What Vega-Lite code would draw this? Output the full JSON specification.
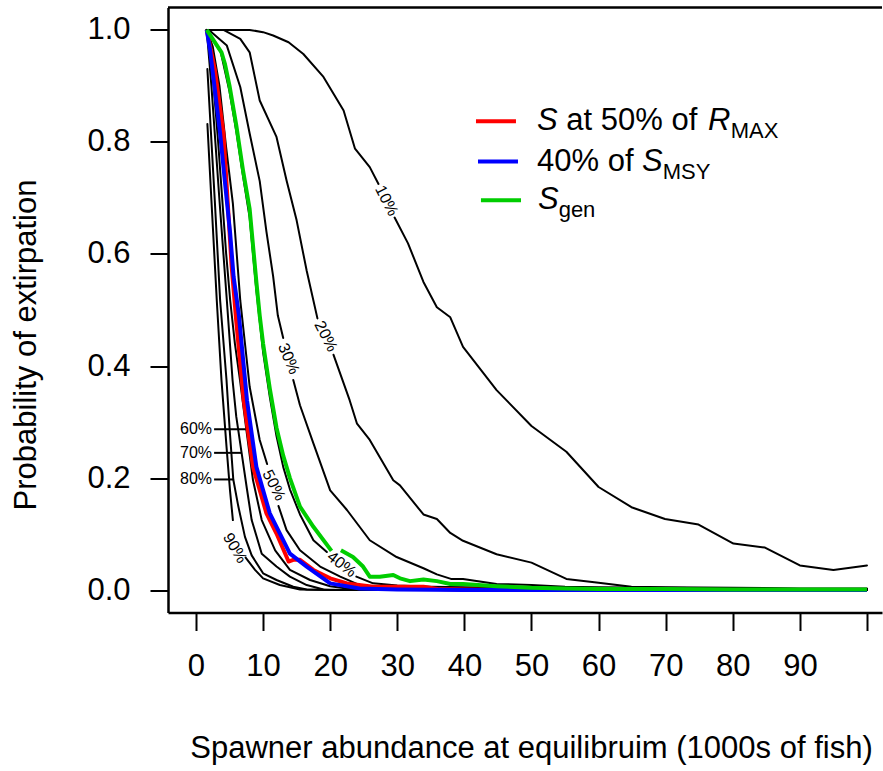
{
"$schema":"https://vega.github.io/schema/vega-lite/v6.json",
"width":714,"height":605,
"autosize":{"type":"none"},
"padding":{"left":168,"top":7.5,"right":1,"bottom":158.5},
"background":"white",
"config":{"view":{"stroke":null},"font":"Liberation Sans",
"axis":{"labelFont":"Liberation Sans","titleFont":"Liberation Sans","labelFontSize":31,"titleFontSize":31,"titleFontWeight":"normal","labelColor":"black","titleColor":"black","tickColor":"black","domainColor":"black","tickSize":18,"tickWidth":2,"domainWidth":2.5,"grid":false,"labelFlush":false,"labelOverlap":false}},
"encoding":{
  "x":{"field":"x","type":"quantitative","scale":{"domain":[-4.17,102.24],"nice":false,"zero":false},
       "axis":{"title":"Spawner abundance at equilibruim (1000s of fish)","values":[0,10,20,30,40,50,60,70,80,90,100],"labelExpr":"datum.value == 100 ? '' : datum.label","labelPadding":21,"titlePadding":52,"titleX":363}},
  "y":{"field":"y","type":"quantitative","scale":{"domain":[-0.04,1.04],"nice":false,"zero":false},
       "axis":{"title":"Probability of extirpation","values":[0,0.2,0.4,0.6,0.8,1],"format":".1f","labelPadding":20,"titlePadding":44,"titleY":337}}
},
"datasets":{
"contours":[
{"id":"10%","seg":1,"x":1.6,"y":1.0},{"id":"10%","seg":1,"x":4,"y":1.0},{"id":"10%","seg":1,"x":6,"y":1.0},{"id":"10%","seg":1,"x":8,"y":1.0},{"id":"10%","seg":1,"x":10,"y":0.996},{"id":"10%","seg":1,"x":11.5,"y":0.99},{"id":"10%","seg":1,"x":13.8,"y":0.978},{"id":"10%","seg":1,"x":16,"y":0.957},{"id":"10%","seg":1,"x":19,"y":0.916},{"id":"10%","seg":1,"x":22,"y":0.856},{"id":"10%","seg":1,"x":23.7,"y":0.788},{"id":"10%","seg":1,"x":25.9,"y":0.755},{"id":"10%","seg":1,"x":27.2,"y":0.725},
{"id":"10%","seg":2,"x":29.6,"y":0.665},{"id":"10%","seg":2,"x":31.6,"y":0.619},{"id":"10%","seg":2,"x":33.9,"y":0.55},{"id":"10%","seg":2,"x":35.9,"y":0.505},{"id":"10%","seg":2,"x":37.9,"y":0.487},{"id":"10%","seg":2,"x":39.8,"y":0.434},{"id":"10%","seg":2,"x":44.8,"y":0.357},{"id":"10%","seg":2,"x":50,"y":0.293},{"id":"10%","seg":2,"x":55.2,"y":0.247},{"id":"10%","seg":2,"x":60,"y":0.184},{"id":"10%","seg":2,"x":64.9,"y":0.148},{"id":"10%","seg":2,"x":69.9,"y":0.127},{"id":"10%","seg":2,"x":74.9,"y":0.117},{"id":"10%","seg":2,"x":80.1,"y":0.083},{"id":"10%","seg":2,"x":84.8,"y":0.076},{"id":"10%","seg":2,"x":90,"y":0.044},{"id":"10%","seg":2,"x":95,"y":0.036},{"id":"10%","seg":2,"x":100,"y":0.044},
{"id":"20%","seg":1,"x":1.6,"y":1.0},{"id":"20%","seg":1,"x":4.1,"y":1.0},{"id":"20%","seg":1,"x":6.6,"y":0.984},{"id":"20%","seg":1,"x":8,"y":0.96},{"id":"20%","seg":1,"x":9.5,"y":0.874},{"id":"20%","seg":1,"x":12,"y":0.809},{"id":"20%","seg":1,"x":13.5,"y":0.731},{"id":"20%","seg":1,"x":15,"y":0.66},{"id":"20%","seg":1,"x":16.5,"y":0.57},{"id":"20%","seg":1,"x":18.1,"y":0.485},
{"id":"20%","seg":2,"x":20.5,"y":0.42},{"id":"20%","seg":2,"x":22.9,"y":0.339},{"id":"20%","seg":2,"x":24,"y":0.297},{"id":"20%","seg":2,"x":25.9,"y":0.268},{"id":"20%","seg":2,"x":29.4,"y":0.196},{"id":"20%","seg":2,"x":30.4,"y":0.187},{"id":"20%","seg":2,"x":33.9,"y":0.135},{"id":"20%","seg":2,"x":35.9,"y":0.127},{"id":"20%","seg":2,"x":37.9,"y":0.102},{"id":"20%","seg":2,"x":39.8,"y":0.088},{"id":"20%","seg":2,"x":44.8,"y":0.064},{"id":"20%","seg":2,"x":50,"y":0.049},{"id":"20%","seg":2,"x":55.2,"y":0.02},{"id":"20%","seg":2,"x":60,"y":0.013},{"id":"20%","seg":2,"x":64.9,"y":0.006},{"id":"20%","seg":2,"x":70,"y":0.005},{"id":"20%","seg":2,"x":80,"y":0.004},{"id":"20%","seg":2,"x":90,"y":0.003},{"id":"20%","seg":2,"x":100,"y":0.003},
{"id":"30%","seg":1,"x":1.6,"y":1.0},{"id":"30%","seg":1,"x":2.1,"y":0.998},{"id":"30%","seg":1,"x":4.6,"y":0.972},{"id":"30%","seg":1,"x":6.6,"y":0.898},{"id":"30%","seg":1,"x":8,"y":0.815},{"id":"30%","seg":1,"x":9.5,"y":0.73},{"id":"30%","seg":1,"x":10.5,"y":0.64},{"id":"30%","seg":1,"x":11.5,"y":0.56},{"id":"30%","seg":1,"x":12.2,"y":0.49},{"id":"30%","seg":1,"x":13.0,"y":0.45},
{"id":"30%","seg":2,"x":14.5,"y":0.375},{"id":"30%","seg":2,"x":15.5,"y":0.33},{"id":"30%","seg":2,"x":17.5,"y":0.262},{"id":"30%","seg":2,"x":20,"y":0.178},{"id":"30%","seg":2,"x":22.5,"y":0.143},{"id":"30%","seg":2,"x":25.9,"y":0.089},{"id":"30%","seg":2,"x":29.9,"y":0.059},{"id":"30%","seg":2,"x":33.9,"y":0.039},{"id":"30%","seg":2,"x":35.9,"y":0.028},{"id":"30%","seg":2,"x":38,"y":0.02},{"id":"30%","seg":2,"x":39.8,"y":0.02},{"id":"30%","seg":2,"x":44.8,"y":0.011},{"id":"30%","seg":2,"x":50,"y":0.009},{"id":"30%","seg":2,"x":55,"y":0.006},{"id":"30%","seg":2,"x":60,"y":0.005},{"id":"30%","seg":2,"x":70,"y":0.004},{"id":"30%","seg":2,"x":80,"y":0.003},{"id":"30%","seg":2,"x":90,"y":0.002},{"id":"30%","seg":2,"x":100,"y":0.002},
{"id":"40%","seg":1,"x":1.6,"y":1.0},{"id":"40%","seg":1,"x":3.7,"y":0.96},{"id":"40%","seg":1,"x":5,"y":0.89},{"id":"40%","seg":1,"x":6,"y":0.82},{"id":"40%","seg":1,"x":7,"y":0.74},{"id":"40%","seg":1,"x":8,"y":0.665},{"id":"40%","seg":1,"x":9,"y":0.535},{"id":"40%","seg":1,"x":10,"y":0.425},{"id":"40%","seg":1,"x":11,"y":0.345},{"id":"40%","seg":1,"x":12,"y":0.275},{"id":"40%","seg":1,"x":13,"y":0.22},{"id":"40%","seg":1,"x":14,"y":0.18},{"id":"40%","seg":1,"x":15.5,"y":0.135},{"id":"40%","seg":1,"x":17.5,"y":0.089},{"id":"40%","seg":1,"x":19.5,"y":0.068},
{"id":"40%","seg":2,"x":23.9,"y":0.024},{"id":"40%","seg":2,"x":26.4,"y":0.012},{"id":"40%","seg":2,"x":30,"y":0.008},{"id":"40%","seg":2,"x":35,"y":0.006},{"id":"40%","seg":2,"x":40,"y":0.005},{"id":"40%","seg":2,"x":50,"y":0.004},{"id":"40%","seg":2,"x":60,"y":0.003},{"id":"40%","seg":2,"x":70,"y":0.003},{"id":"40%","seg":2,"x":80,"y":0.002},{"id":"40%","seg":2,"x":100,"y":0.002},
{"id":"50%","seg":1,"x":1.6,"y":1.0},{"id":"50%","seg":1,"x":2.5,"y":0.97},{"id":"50%","seg":1,"x":3.5,"y":0.9},{"id":"50%","seg":1,"x":4.5,"y":0.79},{"id":"50%","seg":1,"x":5.5,"y":0.69},{"id":"50%","seg":1,"x":6.6,"y":0.517},{"id":"50%","seg":1,"x":8,"y":0.363},{"id":"50%","seg":1,"x":9.5,"y":0.268},{"id":"50%","seg":1,"x":10.6,"y":0.225},
{"id":"50%","seg":2,"x":12.3,"y":0.15},{"id":"50%","seg":2,"x":13.5,"y":0.107},{"id":"50%","seg":2,"x":15.5,"y":0.071},{"id":"50%","seg":2,"x":18.5,"y":0.042},{"id":"50%","seg":2,"x":21.5,"y":0.024},{"id":"50%","seg":2,"x":24.4,"y":0.009},{"id":"50%","seg":2,"x":28,"y":0.004},{"id":"50%","seg":2,"x":32,"y":0.002},{"id":"50%","seg":2,"x":36,"y":0.001},{"id":"50%","seg":2,"x":40,"y":0},{"id":"50%","seg":2,"x":100,"y":0},
{"id":"60%","seg":1,"x":1.6,"y":1.0},{"id":"60%","seg":1,"x":2.5,"y":0.92},{"id":"60%","seg":1,"x":3.3,"y":0.8},{"id":"60%","seg":1,"x":3.9,"y":0.7},{"id":"60%","seg":1,"x":4.5,"y":0.6},{"id":"60%","seg":1,"x":5.1,"y":0.517},{"id":"60%","seg":1,"x":5.8,"y":0.44},{"id":"60%","seg":1,"x":6.56,"y":0.375},{"id":"60%","seg":1,"x":7.5,"y":0.287},{"id":"60%","seg":1,"x":8.5,"y":0.196},{"id":"60%","seg":1,"x":9.8,"y":0.125},{"id":"60%","seg":1,"x":11.8,"y":0.071},{"id":"60%","seg":1,"x":14,"y":0.036},{"id":"60%","seg":1,"x":17,"y":0.018},{"id":"60%","seg":1,"x":20,"y":0.007},{"id":"60%","seg":1,"x":23,"y":0.002},{"id":"60%","seg":1,"x":26,"y":0},{"id":"60%","seg":1,"x":100,"y":0},
{"id":"70%","seg":1,"x":1.6,"y":1.0},{"id":"70%","seg":1,"x":2.3,"y":0.9},{"id":"70%","seg":1,"x":3.5,"y":0.696},{"id":"70%","seg":1,"x":4.6,"y":0.517},{"id":"70%","seg":1,"x":5.45,"y":0.375},{"id":"70%","seg":1,"x":6.0,"y":0.31},{"id":"70%","seg":1,"x":6.8,"y":0.245},{"id":"70%","seg":1,"x":7.6,"y":0.18},{"id":"70%","seg":1,"x":8.3,"y":0.125},{"id":"70%","seg":1,"x":9.8,"y":0.065},{"id":"70%","seg":1,"x":12,"y":0.042},{"id":"70%","seg":1,"x":14,"y":0.024},{"id":"70%","seg":1,"x":16.5,"y":0.009},{"id":"70%","seg":1,"x":19,"y":0.001},{"id":"70%","seg":1,"x":22,"y":0},{"id":"70%","seg":1,"x":100,"y":0},
{"id":"80%","seg":1,"x":1.7,"y":0.93},{"id":"80%","seg":1,"x":2.8,"y":0.696},{"id":"80%","seg":1,"x":3.6,"y":0.517},{"id":"80%","seg":1,"x":4.55,"y":0.375},{"id":"80%","seg":1,"x":5.0,"y":0.29},{"id":"80%","seg":1,"x":5.56,"y":0.1975},{"id":"80%","seg":1,"x":6.3,"y":0.15},{"id":"80%","seg":1,"x":7.3,"y":0.095},{"id":"80%","seg":1,"x":8.3,"y":0.062},{"id":"80%","seg":1,"x":10,"y":0.03},{"id":"80%","seg":1,"x":12,"y":0.018},{"id":"80%","seg":1,"x":14.5,"y":0.006},{"id":"80%","seg":1,"x":16.5,"y":0.001},{"id":"80%","seg":1,"x":20,"y":0},{"id":"80%","seg":1,"x":100,"y":0},
{"id":"90%","seg":1,"x":1.7,"y":0.832},{"id":"90%","seg":1,"x":2.3,"y":0.696},{"id":"90%","seg":1,"x":3.1,"y":0.517},{"id":"90%","seg":1,"x":3.8,"y":0.375},{"id":"90%","seg":1,"x":4.55,"y":0.256},{"id":"90%","seg":1,"x":5.07,"y":0.178},{"id":"90%","seg":1,"x":5.5,"y":0.125},
{"id":"90%","seg":2,"x":7.4,"y":0.058},{"id":"90%","seg":2,"x":8.8,"y":0.036},{"id":"90%","seg":2,"x":10,"y":0.021},{"id":"90%","seg":2,"x":12.5,"y":0.009},{"id":"90%","seg":2,"x":15.5,"y":0.001},{"id":"90%","seg":2,"x":20,"y":0},{"id":"90%","seg":2,"x":100,"y":0}
],
"refs":[
{"series":"rmax","seg":1,"x":1.6,"y":1.0},{"series":"rmax","seg":1,"x":2.8,"y":0.93},{"series":"rmax","seg":1,"x":4.1,"y":0.815},{"series":"rmax","seg":1,"x":5.3,"y":0.58},{"series":"rmax","seg":1,"x":6,"y":0.48},{"series":"rmax","seg":1,"x":7.1,"y":0.34},{"series":"rmax","seg":1,"x":8.5,"y":0.22},{"series":"rmax","seg":1,"x":10.5,"y":0.137},{"series":"rmax","seg":1,"x":12,"y":0.101},{"series":"rmax","seg":1,"x":13.8,"y":0.051},{"series":"rmax","seg":1,"x":14.5,"y":0.054},{"series":"rmax","seg":1,"x":15.5,"y":0.054},{"series":"rmax","seg":1,"x":17.5,"y":0.036},{"series":"rmax","seg":1,"x":20,"y":0.021},{"series":"rmax","seg":1,"x":22.5,"y":0.012},{"series":"rmax","seg":1,"x":26.4,"y":0.006},{"series":"rmax","seg":1,"x":30.9,"y":0.006},{"series":"rmax","seg":1,"x":33.9,"y":0.006},{"series":"rmax","seg":1,"x":36,"y":0.002},{"series":"rmax","seg":1,"x":40,"y":0.001},{"series":"rmax","seg":1,"x":50,"y":0},{"series":"rmax","seg":1,"x":100,"y":0},
{"series":"smsy","seg":1,"x":1.6,"y":1.0},{"series":"smsy","seg":1,"x":2.1,"y":0.964},{"series":"smsy","seg":1,"x":3.6,"y":0.815},{"series":"smsy","seg":1,"x":4.3,"y":0.73},{"series":"smsy","seg":1,"x":5.1,"y":0.636},{"series":"smsy","seg":1,"x":5.6,"y":0.56},{"series":"smsy","seg":1,"x":6.4,"y":0.49},{"series":"smsy","seg":1,"x":7.6,"y":0.339},{"series":"smsy","seg":1,"x":9,"y":0.22},{"series":"smsy","seg":1,"x":11,"y":0.137},{"series":"smsy","seg":1,"x":14,"y":0.065},{"series":"smsy","seg":1,"x":16.5,"y":0.042},{"series":"smsy","seg":1,"x":20,"y":0.012},{"series":"smsy","seg":1,"x":24.4,"y":0.003},{"series":"smsy","seg":1,"x":30,"y":0.001},{"series":"smsy","seg":1,"x":40,"y":0},{"series":"smsy","seg":1,"x":100,"y":0},
{"series":"sgen","seg":1,"x":1.6,"y":1.0},{"series":"sgen","seg":1,"x":3.8,"y":0.96},{"series":"sgen","seg":1,"x":4.3,"y":0.94},{"series":"sgen","seg":1,"x":5,"y":0.9},{"series":"sgen","seg":1,"x":6,"y":0.83},{"series":"sgen","seg":1,"x":7,"y":0.75},{"series":"sgen","seg":1,"x":8,"y":0.68},{"series":"sgen","seg":1,"x":9,"y":0.55},{"series":"sgen","seg":1,"x":9.5,"y":0.49},{"series":"sgen","seg":1,"x":10,"y":0.44},{"series":"sgen","seg":1,"x":11,"y":0.36},{"series":"sgen","seg":1,"x":12,"y":0.29},{"series":"sgen","seg":1,"x":13,"y":0.24},{"series":"sgen","seg":1,"x":14,"y":0.2},{"series":"sgen","seg":1,"x":15.5,"y":0.149},{"series":"sgen","seg":1,"x":17.5,"y":0.113},{"series":"sgen","seg":1,"x":20.2,"y":0.07},
{"series":"sgen","seg":2,"x":21.6,"y":0.071},{"series":"sgen","seg":2,"x":23.4,"y":0.059},{"series":"sgen","seg":2,"x":24.9,"y":0.042},{"series":"sgen","seg":2,"x":25.9,"y":0.024},{"series":"sgen","seg":2,"x":27.4,"y":0.024},{"series":"sgen","seg":2,"x":29.4,"y":0.027},{"series":"sgen","seg":2,"x":30.4,"y":0.021},{"series":"sgen","seg":2,"x":31.9,"y":0.016},{"series":"sgen","seg":2,"x":33.9,"y":0.019},{"series":"sgen","seg":2,"x":35.9,"y":0.016},{"series":"sgen","seg":2,"x":37.9,"y":0.011},{"series":"sgen","seg":2,"x":39.8,"y":0.011},{"series":"sgen","seg":2,"x":44.8,"y":0.007},{"series":"sgen","seg":2,"x":50,"y":0.004},{"series":"sgen","seg":2,"x":55,"y":0.003},{"series":"sgen","seg":2,"x":60,"y":0.002},{"series":"sgen","seg":2,"x":70,"y":0.002},{"series":"sgen","seg":2,"x":80,"y":0.001},{"series":"sgen","seg":2,"x":90,"y":0.001},{"series":"sgen","seg":2,"x":100,"y":0.001}
],
"clabels":[
{"text":"10%","group":"a","x":28.4,"y":0.695},{"text":"20%","group":"a","x":19.35,"y":0.453},{"text":"50%","group":"a","x":11.6,"y":0.187},{"text":"30%","group":"b","x":13.8,"y":0.413},{"text":"40%","group":"c","x":21.7,"y":0.046},{"text":"90%","group":"d","x":5.8,"y":0.075}
],
"sidelabels":[
{"text":"60%","x":2.7,"x2":7.5,"y":0.287},{"text":"70%","x":2.7,"x2":6.8,"y":0.245},{"text":"80%","x":2.7,"x2":5.56,"y":0.1975}
],
"keylines":[
{"series":"rmax","x":41.73,"x2":47.69,"y":0.837},{"series":"smsy","x":42.03,"x2":47.99,"y":0.765},{"series":"sgen","x":42.47,"x2":48.44,"y":0.696}
],
"keytext":[
{"kind":"italic","text":"S","x":50.82,"y":0.837},{"kind":"plain","text":"at 50% of","x":55.19,"y":0.837},{"kind":"italic","text":"R","x":76.3,"y":0.837},{"kind":"sub","text":"MAX","x":79.7,"y":0.837},
{"kind":"plain","text":"40% of","x":50.82,"y":0.765},{"kind":"italic","text":"S","x":66.47,"y":0.765},{"kind":"sub","text":"MSY","x":69.57,"y":0.765},
{"kind":"italic","text":"S","x":50.97,"y":0.696},{"kind":"sub","text":"gen","x":54.05,"y":0.696}
],
"frame":[{"x":-4.17,"x2":102.24,"y":1.04}]
},
"layer":[
{"data":{"name":"contours"},
 "mark":{"type":"line","color":"black","strokeWidth":2,"strokeJoin":"round","strokeCap":"round"},
 "encoding":{"detail":[{"field":"id"},{"field":"seg"}]}},
{"data":{"name":"sidelabels"},
 "mark":{"type":"rule","color":"black","strokeWidth":2},
 "encoding":{"x2":{"field":"x2"}}},
{"data":{"name":"sidelabels"},
 "mark":{"type":"text","align":"right","baseline":"middle","fontSize":16,"dx":-2,"color":"black"},
 "encoding":{"text":{"field":"text"}}},
{"data":{"name":"clabels"},"transform":[{"filter":"datum.group == 'a'"}],
 "mark":{"type":"text","align":"center","baseline":"middle","fontSize":16,"angle":63,"color":"black"},
 "encoding":{"text":{"field":"text"}}},
{"data":{"name":"clabels"},"transform":[{"filter":"datum.group == 'b'"}],
 "mark":{"type":"text","align":"center","baseline":"middle","fontSize":16,"angle":67,"color":"black"},
 "encoding":{"text":{"field":"text"}}},
{"data":{"name":"clabels"},"transform":[{"filter":"datum.group == 'c'"}],
 "mark":{"type":"text","align":"center","baseline":"middle","fontSize":16,"angle":38,"color":"black"},
 "encoding":{"text":{"field":"text"}}},
{"data":{"name":"clabels"},"transform":[{"filter":"datum.group == 'd'"}],
 "mark":{"type":"text","align":"center","baseline":"middle","fontSize":16,"angle":60,"color":"black"},
 "encoding":{"text":{"field":"text"}}},
{"data":{"name":"refs"},"transform":[{"filter":"datum.series == 'rmax'"}],
 "mark":{"type":"line","color":"#FF0000","strokeWidth":4,"strokeJoin":"round"},
 "encoding":{"detail":{"field":"seg"}}},
{"data":{"name":"refs"},"transform":[{"filter":"datum.series == 'smsy'"}],
 "mark":{"type":"line","color":"#0000FF","strokeWidth":4,"strokeJoin":"round"},
 "encoding":{"detail":{"field":"seg"}}},
{"data":{"name":"refs"},"transform":[{"filter":"datum.series == 'sgen'"}],
 "mark":{"type":"line","color":"#00CD00","strokeWidth":4,"strokeJoin":"round"},
 "encoding":{"detail":{"field":"seg"}}},
{"data":{"name":"keylines"},
 "mark":{"type":"rule","strokeWidth":4},
 "encoding":{"x2":{"field":"x2"},
  "color":{"field":"series","type":"nominal","scale":{"domain":["rmax","smsy","sgen"],"range":["#FF0000","#0000FF","#00CD00"]},"legend":null}}},
{"data":{"name":"keytext"},"transform":[{"filter":"datum.kind == 'plain'"}],
 "mark":{"type":"text","align":"left","baseline":"middle","fontSize":31,"color":"black"},
 "encoding":{"text":{"field":"text"}}},
{"data":{"name":"keytext"},"transform":[{"filter":"datum.kind == 'italic'"}],
 "mark":{"type":"text","align":"left","baseline":"middle","fontSize":31,"fontStyle":"italic","color":"black"},
 "encoding":{"text":{"field":"text"}}},
{"data":{"name":"keytext"},"transform":[{"filter":"datum.kind == 'sub'"}],
 "mark":{"type":"text","align":"left","baseline":"middle","fontSize":22,"dy":10,"color":"black"},
 "encoding":{"text":{"field":"text"}}},
{"data":{"name":"frame"},
 "mark":{"type":"rule","color":"black","strokeWidth":2.5},
 "encoding":{"x2":{"field":"x2"}}}
]
}
